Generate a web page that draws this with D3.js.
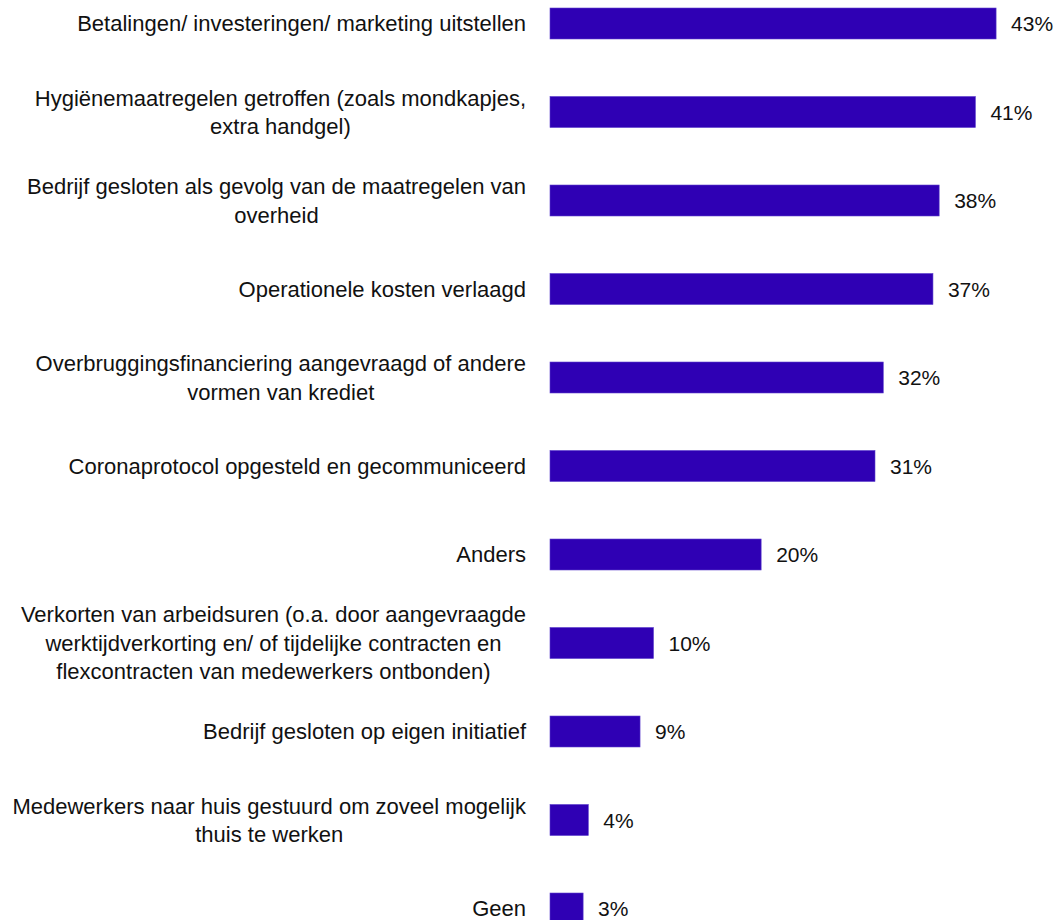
<!DOCTYPE html>
<html>
<head>
<meta charset="utf-8">
<script src="https://cdn.jsdelivr.net/npm/d3@7"></script>
<style>
  html, body { margin: 0; padding: 0; background: #fff; }
  svg text { font-family: "Liberation Sans", Arial, sans-serif; fill: #111; }
</style>
</head>
<body>
<div id="vis"></div>
<script>
// categories, one entry per bar, each split into its display lines
const categories = [
  ["Betalingen/ investeringen/ marketing uitstellen"],
  ["Hygiënemaatregelen getroffen (zoals mondkapjes,", "extra handgel)"],
  ["Bedrijf gesloten als gevolg van de maatregelen van", "overheid"],
  ["Operationele kosten verlaagd"],
  ["Overbruggingsfinanciering aangevraagd of andere", "vormen van krediet"],
  ["Coronaprotocol opgesteld en gecommuniceerd"],
  ["Anders"],
  ["Verkorten van arbeidsuren (o.a. door aangevraagde", "werktijdverkorting en/ of tijdelijke contracten en", "flexcontracten van medewerkers ontbonden)"],
  ["Bedrijf gesloten op eigen initiatief"],
  ["Medewerkers naar huis gestuurd om zoveel mogelijk", "thuis te werken"],
  ["Geen"]
]

// share of respondents (%)
const values = [43.1, 41.1, 37.6, 37.0, 32.2, 31.4, 20.4, 10.0, 8.7, 3.7, 3.2]

const width = 1059
const height = 920
const margin = { left: 550, labelRight: 526, labelGap: 15 }
const fontSize = 22
const valueFontSize = 21
const lineHeight = 28.5

const svg = d3.select('#vis')
  .append('svg')
  .attr('width', width)
  .attr('height', height)

const rows = categories.map((lines, i) => ({ lines: lines, value: values[i], index: i }))

// x scale: percent -> pixels
const xScale = d3.scaleLinear()
  .domain([0, 45])
  .range([margin.left, margin.left + 45 * 10.35])

// y scale: one band per category
const yScale = d3.scaleBand()
  .domain(d3.range(rows.length))
  .range([-20.75, 952.75])
  .paddingInner(0.65)
  .paddingOuter(0.325)

// bars
svg.append('g')
  .attr('class', 'bars')
  .selectAll('rect')
  .data(rows)
  .enter()
  .append('rect')
  .attr('x', xScale(0))
  .attr('y', d => yScale(d.index))
  .attr('width', d => xScale(d.value) - xScale(0))
  .attr('height', yScale.bandwidth())
  .attr('fill', '#2f00b4')
  .attr('stroke', '#5a3ccc')
  .attr('stroke-width', 0.6)

// value labels
svg.append('g')
  .attr('class', 'value-labels')
  .selectAll('text')
  .data(rows)
  .enter()
  .append('text')
  .attr('x', d => xScale(d.value) + margin.labelGap)
  .attr('y', d => yScale(d.index) + yScale.bandwidth() / 2)
  .attr('dy', '0.36em')
  .attr('font-size', valueFontSize)
  .text(d => Math.round(d.value) + '%')

// category labels: block right-aligned, lines centred within block
const labelGroups = svg.append('g')
  .attr('class', 'category-labels')
  .selectAll('g')
  .data(rows)
  .enter()
  .append('g')

labelGroups.each(function (d) {
  const g = d3.select(this)
  const center = yScale(d.index) + yScale.bandwidth() / 2
  const n = d.lines.length
  const texts = g.selectAll('text')
    .data(d.lines)
    .enter()
    .append('text')
    .attr('font-size', fontSize)
    .attr('text-anchor', 'middle')
    .attr('y', (line, i) => center + (i - (n - 1) / 2) * lineHeight)
    .attr('dy', '0.36em')
    .text(line => line)

  let blockWidth = 0
  texts.each(function () { blockWidth = Math.max(blockWidth, this.getComputedTextLength()) })
  texts.attr('x', margin.labelRight - blockWidth / 2)
})
</script>
</body>
</html>
